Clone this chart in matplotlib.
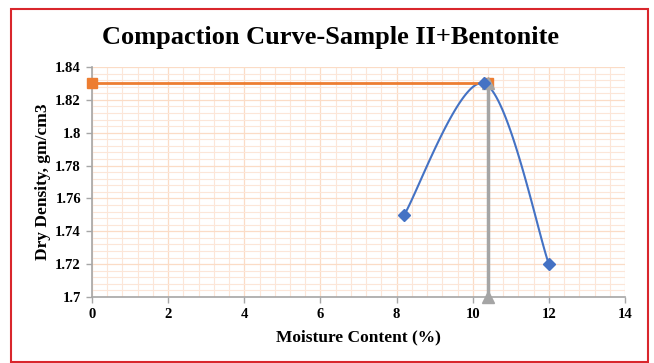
import numpy as np
import matplotlib
matplotlib.use("Agg")
import matplotlib.pyplot as plt
from matplotlib.patches import Rectangle
from matplotlib.ticker import MultipleLocator

moisture = [8.2, 10.3, 12.0]
density = [1.75, 1.83, 1.72]
omc_x = [0, 10.4]
omc_y = [1.83, 1.83]
vert_x = [10.4, 10.4]
vert_y = [1.83, 1.70]

def excel_smooth(xs, ys, n=60):
    xs = np.asarray(xs, float); ys = np.asarray(ys, float)
    px = np.concatenate([[xs[0]], xs, [xs[-1]]])
    py = np.concatenate([[ys[0]], ys, [ys[-1]]])
    outx, outy = [], []
    for i in range(1, len(px) - 2):
        p0 = np.array([px[i], py[i]]); p3 = np.array([px[i+1], py[i+1]])
        c1 = p0 + (np.array([px[i+1], py[i+1]]) - np.array([px[i-1], py[i-1]])) / 6
        c2 = p3 - (np.array([px[i+2], py[i+2]]) - np.array([px[i], py[i]])) / 6
        t = np.linspace(0, 1, n)[:, None]
        b = (1-t)**3*p0 + 3*(1-t)**2*t*c1 + 3*(1-t)*t**2*c2 + t**3*p3
        outx.extend(b[:, 0]); outy.extend(b[:, 1])
    return outx, outy

serif = ["Liberation Serif", "DejaVu Serif"]
fig = plt.figure(figsize=(6.54, 3.63), dpi=100)
ax = fig.add_axes([0.1407, 0.1818, 0.815, 0.6336])

ax.set_xlim(0, 14)
ax.set_ylim(1.70, 1.84)
ax.xaxis.set_major_locator(MultipleLocator(2))
ax.xaxis.set_minor_locator(MultipleLocator(0.4))
ax.yaxis.set_major_locator(MultipleLocator(0.02))
ax.yaxis.set_minor_locator(MultipleLocator(0.004))
ax.grid(which="major", color="#fbdcc6", lw=0.9)
ax.grid(which="minor", color="#fce6d8", lw=0.8)
ax.set_axisbelow(True)
ax.tick_params(which="minor", length=0)
ax.tick_params(which="major", length=4, color="#a6a6a6", width=1, pad=4)
for s in ["top", "right"]:
    ax.spines[s].set_visible(False)
for s in ["left", "bottom"]:
    ax.spines[s].set_color("#a6a6a6")
    ax.spines[s].set_linewidth(1.2)

sx, sy = excel_smooth(moisture, density)
ax.plot(sx, sy, color="#4472c4", lw=1.5, zorder=3)
ax.plot(moisture, density, ls="none", marker="D", ms=6, color="#4472c4", zorder=4)
ax.plot(omc_x, omc_y, color="#ed7d31", lw=2, marker="s", ms=7, zorder=3, clip_on=False)
ax.plot(vert_x, vert_y, color="#a5a5a5", lw=2.5, marker="^", ms=8, zorder=3, clip_on=False)

ax.set_xticks([0, 2, 4, 6, 8, 10, 12, 14])
ax.set_xticklabels(["0", "2", "4", "6", "8", "10", "12", "14"])
ax.set_yticks([1.70, 1.72, 1.74, 1.76, 1.78, 1.80, 1.82, 1.84])
ax.set_yticklabels(["1.7", "1.72", "1.74", "1.76", "1.78", "1.8", "1.82", "1.84"])
for lab in ax.get_xticklabels() + ax.get_yticklabels():
    lab.set_fontfamily(serif); lab.set_fontweight("bold"); lab.set_fontsize(10.5)
ax.set_xlabel("Moisture Content (%)", fontfamily=serif, fontweight="bold", fontsize=12.5, labelpad=6)
ax.set_ylabel("Dry Density, gm/cm3", fontfamily=serif, fontweight="bold", fontsize=12.5, labelpad=3)

fig.text(0.505, 0.897, "Compaction Curve-Sample II+Bentonite", ha="center", va="center",
         fontfamily=serif, fontweight="bold", fontsize=19)

fig.patches.append(Rectangle((0.017, 0.004), 0.974, 0.97, transform=fig.transFigure,
                             fill=False, edgecolor="#d9262c", lw=1.5))

fig.savefig("out.png", dpi=100)
